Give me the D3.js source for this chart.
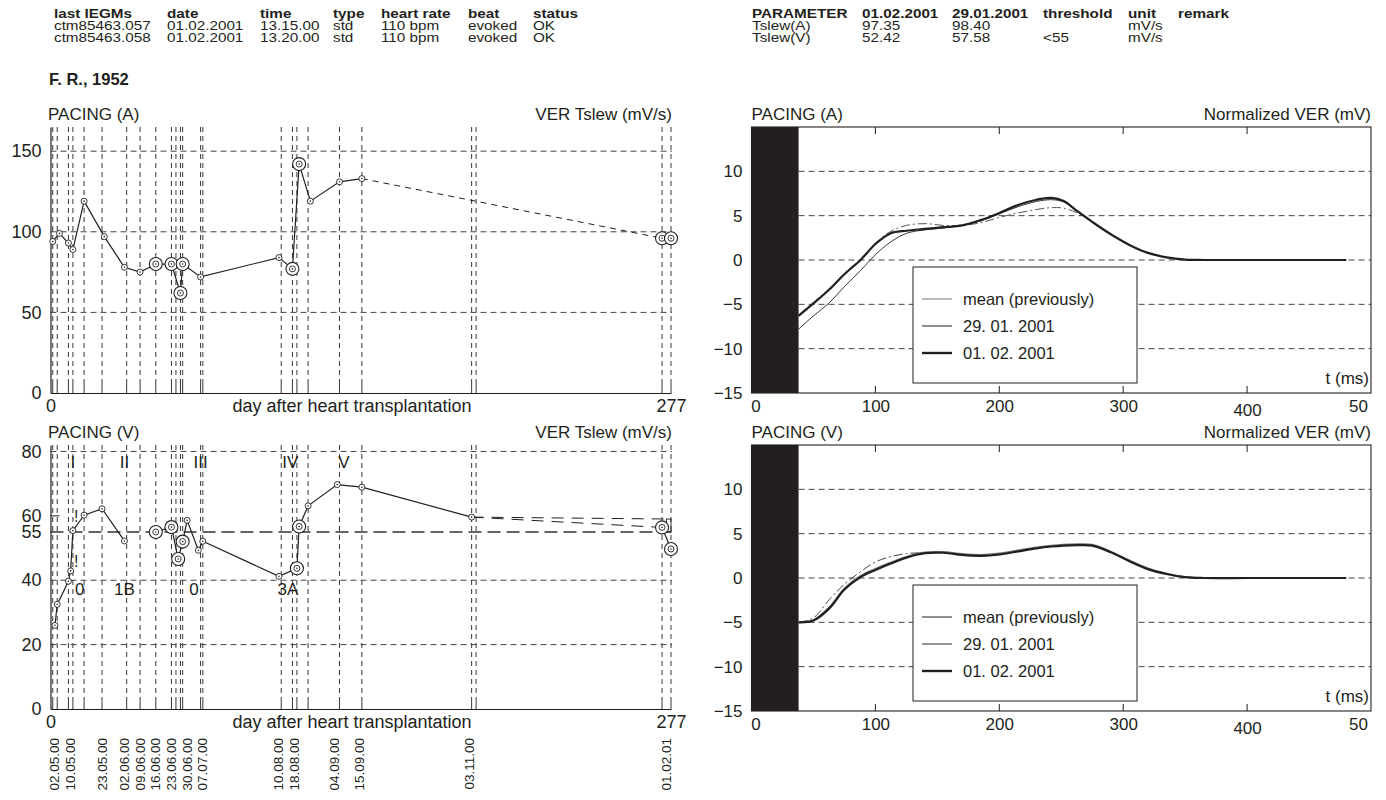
<!DOCTYPE html>
<html>
<head>
<meta charset="utf-8">
<script src="https://cdn.jsdelivr.net/npm/d3@7"></script>
<style>
  body { margin: 0; background: #fff; }
  svg text { font-family: "Liberation Sans", Arial, Helvetica, sans-serif; fill: #231f20; }
</style>
</head>
<body>
<svg id="chart" width="1386" height="800"></svg>
<script>
// ---- header tables
var headLeft = ['last IEGMs', 'date', 'time', 'type', 'heart rate', 'beat', 'status']
var rowsLeft = [
  ['ctm85463.057', '01.02.2001', '13.15.00', 'std', '110 bpm', 'evoked', 'OK'],
  ['ctm85463.058', '01.02.2001', '13.20.00', 'std', '110 bpm', 'evoked', 'OK']
]
var headRight = ['PARAMETER', '01.02.2001', '29.01.2001', 'threshold', 'unit', 'remark']
var rowsRight = [
  ['Tslew(A)', '97.35', '98.40', '', 'mV/s', ''],
  ['Tslew(V)', '52.42', '57.58', '<55', 'mV/s', '']
]
var patient = 'F. R., 1952'

// ---- trend charts (day after heart transplantation)
var lineDays = [1, 3, 8, 10, 15, 23, 34, 40, 47, 54, 56, 58, 59, 67, 68, 103, 108, 110, 115, 129, 139, 188, 190, 273, 277]
var dateLabels = ['02.05.00', '10.05.00', '23.05.00', '02.06.00', '09.06.00', '16.06.00', '23.06.00', '30.06.00', '07.07.00',
                  '10.08.00', '18.08.00', '04.09.00', '15.09.00', '03.11.00', '01.02.01']
var dateDays = [2, 9, 23, 33, 40, 47, 54, 61, 68, 102, 109, 127, 138, 187, 275]

// pacing (A)
var aDays  = [1, 4, 8, 10, 15, 24, 33, 40, 47, 54, 58, 59, 67, 102, 108, 111, 116, 129, 139, 273, 277]
var aVals  = [94, 99, 93, 89, 119, 97, 78, 75, 80, 80, 62, 80, 72, 84, 77, 142, 119, 131, 133, 96, 96]
var aGroup = [1, 1, 1, 1, 1, 1, 1, 1, 1, 1, 1, 1, 1, 1, 1, 1, 1, 1, 1, 2, 2]
var aBig   = [0, 0, 0, 0, 0, 0, 0, 0, 1, 1, 1, 1, 0, 0, 1, 1, 0, 0, 0, 1, 1]
var aBridge = [2]

// pacing (V)
var vDays  = [2, 3, 8, 9, 10, 15, 23, 33, 47, 54, 57, 59, 61, 66, 68, 102, 110, 111, 115, 128, 139, 188, 273, 277]
var vVals  = [26, 32.5, 39.7, 42.9, 55.4, 60.2, 62.2, 52.2, 55, 56.5, 46.6, 52, 58.6, 49.3, 52.1, 41.2, 43.7, 56.7, 63.1, 69.7, 68.9, 59.6, 56.4, 49.7]
var vGroup = [1, 1, 1, 1, 1, 1, 1, 1, 2, 2, 2, 2, 2, 2, 2, 2, 2, 2, 2, 2, 2, 2, 3, 3]
var vBig   = [0, 0, 0, 0, 0, 0, 0, 0, 1, 1, 1, 1, 0, 0, 0, 0, 1, 1, 0, 0, 0, 0, 1, 1]
var vBridge = [3]
var vExtraDay = 277, vExtraVal = 59
var vThreshold = 55

var vNotesTop = ['I', 'II', 'III', 'IV', 'V']
var vNotesTopDays = [10, 33, 67, 107, 131]
var vNotesLow = ['0', '1B', '0', '3A']
var vNotesLowDays = [13, 33, 64, 106]
var vBangDays = [11.5, 11.5]
var vBangVals = [60, 46]

// ---- VER curves (t in ms)
var verT     = [38, 50, 63, 75, 88, 100, 112, 125, 140, 155, 170, 185, 200, 215, 230, 242, 252, 263, 275, 290, 305, 320, 335, 350, 365, 400, 440, 480]
var verAmean = [-6.2, -4.8, -3.2, -1.5, 0.1, 1.9, 3.2, 3.9, 4.1, 3.9, 3.9, 4.2, 4.8, 5.3, 5.7, 5.9, 5.85, 5.3, 4.3, 2.9, 1.7, 0.8, 0.3, 0.05, 0, 0, 0, 0]
var verA2901 = [-7.8, -6.3, -4.8, -3.0, -1.2, 0.6, 2.0, 3.0, 3.4, 3.6, 3.9, 4.4, 5.2, 6.0, 6.6, 6.8, 6.55, 5.5, 4.3, 2.9, 1.7, 0.8, 0.3, 0.05, 0, 0, 0, 0]
var verA0102 = [-6.3, -4.9, -3.3, -1.6, 0, 1.8, 3.0, 3.3, 3.5, 3.7, 3.9, 4.5, 5.3, 6.2, 6.8, 7.0, 6.65, 5.5, 4.3, 2.9, 1.7, 0.8, 0.3, 0.05, 0, 0, 0, 0]
var verVmean = [-5, -4.5, -2.4, -0.7, 0.7, 1.8, 2.4, 2.75, 2.85, 2.85, 2.6, 2.5, 2.65, 3.0, 3.35, 3.55, 3.65, 3.7, 3.65, 2.9, 1.9, 1.0, 0.45, 0.1, 0, 0, 0, 0]
var verV2901 = [-5, -4.75, -3.25, -1.15, 0.25, 1.05, 1.75, 2.4, 2.9, 2.95, 2.72, 2.62, 2.78, 3.12, 3.47, 3.67, 3.77, 3.82, 3.77, 3.0, 2.0, 1.1, 0.5, 0.12, 0, 0, 0, 0]
var verV0102 = [-5, -4.8, -3.4, -1.3, 0.1, 0.9, 1.6, 2.3, 2.8, 2.85, 2.6, 2.5, 2.65, 3.0, 3.35, 3.55, 3.65, 3.7, 3.65, 2.9, 1.9, 1.0, 0.45, 0.1, 0, 0, 0, 0]
var pacePulse = 38
var legendNames = ['mean (previously)', '29. 01. 2001', '01. 02. 2001']

var ink = '#231f20'
var svg = d3.select('#chart')

// ---------- header
function stretch(sel, k) {
  sel.each(function() {
    var w = this.getComputedTextLength()
    if (w > 0) d3.select(this).attr('textLength', w * k).attr('lengthAdjust', 'spacingAndGlyphs')
  })
}

function drawTable(cols, head, rows) {
  var g = svg.append('g').attr('font-size', 13.5)
  head.forEach(function(h, i) {
    g.append('text').attr('x', cols[i]).attr('y', 18).attr('font-weight', 'bold').text(h)
  })
  rows.forEach(function(r, j) {
    r.forEach(function(c, i) {
      g.append('text').attr('x', cols[i]).attr('y', 30 + j * 12).text(c)
    })
  })
  stretch(g.selectAll('text'), 1.13)
}
drawTable([54, 167, 260, 333, 381, 468, 533], headLeft, rowsLeft)
drawTable([752, 862, 952, 1043, 1128, 1178], headRight, rowsRight)

svg.append('text').attr('x', 49).attr('y', 85).attr('font-size', 16.5).attr('font-weight', 'bold').text(patient)

// ---------- trend charts
var dayX = d3.scaleLinear().domain([0, 277]).range([50.5, 671])

function marker(g, x, y, big) {
  if (big) {
    g.append('circle').attr('cx', x).attr('cy', y).attr('r', 6.5)
      .attr('fill', '#fff').attr('stroke', ink).attr('stroke-width', 1.1)
  }
  g.append('circle').attr('cx', x).attr('cy', y).attr('r', 3)
    .attr('fill', '#fff').attr('stroke', ink).attr('stroke-width', 0.9)
  g.append('circle').attr('cx', x).attr('cy', y).attr('r', 0.8).attr('fill', ink)
}

function drawTrend(opt) {
  var g = svg.append('g')
  var y = d3.scaleLinear().domain([0, opt.yMax]).range([opt.bottom, opt.top])

  // measurement days
  lineDays.forEach(function(d) {
    g.append('line').attr('x1', dayX(d)).attr('x2', dayX(d))
      .attr('y1', opt.top).attr('y2', opt.bottom - 12)
      .attr('stroke', ink).attr('stroke-width', 0.9).attr('stroke-dasharray', '5,4')
    g.append('line').attr('x1', dayX(d)).attr('x2', dayX(d))
      .attr('y1', opt.bottom - 12).attr('y2', opt.bottom)
      .attr('stroke', ink).attr('stroke-width', 0.9)
  })

  // grid
  opt.grid.forEach(function(v) {
    g.append('line').attr('x1', dayX(0)).attr('x2', dayX(277) + 1)
      .attr('y1', y(v)).attr('y2', y(v))
      .attr('stroke', '#444').attr('stroke-width', 1).attr('stroke-dasharray', '6,4')
  })
  if (opt.threshold) {
    g.append('line').attr('x1', dayX(0)).attr('x2', dayX(277) + 1)
      .attr('y1', y(opt.threshold)).attr('y2', y(opt.threshold))
      .attr('stroke', '#333').attr('stroke-width', 1.6).attr('stroke-dasharray', '13,6')
  }
  if (opt.tickOnly) {
    g.append('line').attr('x1', dayX(0)).attr('x2', dayX(0) + 9)
      .attr('y1', y(opt.tickOnly)).attr('y2', y(opt.tickOnly))
      .attr('stroke', ink).attr('stroke-width', 1)
  }

  // axes
  var ya = g.append('g').attr('transform', 'translate(' + dayX(0) + ',0)')
    .call(d3.axisLeft(y).tickValues(opt.ticks).tickSize(0).tickSizeOuter(0).tickPadding(9))
  ya.attr('font-size', 18)
  ya.select('.domain').attr('stroke', ink).attr('stroke-width', 1.2)

  var xa = g.append('g').attr('transform', 'translate(0,' + opt.bottom + ')')
    .call(d3.axisBottom(dayX).tickValues([0, 277]).tickSize(0).tickSizeOuter(0).tickPadding(6))
  xa.attr('font-size', 18)
  xa.select('.domain').attr('stroke', ink).attr('stroke-width', 1.2)

  g.append('text').attr('x', 352).attr('y', opt.bottom + 18.5).attr('text-anchor', 'middle')
    .attr('font-size', 18).text('day after heart transplantation')

  g.append('text').attr('x', 48).attr('y', opt.top - 7).attr('font-size', 17).text(opt.title)
  g.append('text').attr('x', 672).attr('y', opt.top - 7).attr('font-size', 17)
    .attr('text-anchor', 'end').text('VER Tslew (mV/s)')

  // data lines
  var pts = opt.days.map(function(d, i) {
    return { x: dayX(d), y: y(opt.vals[i]), grp: opt.group[i], big: opt.big[i] }
  })
  var line = d3.line().x(function(p) { return p.x }).y(function(p) { return p.y })
  var groups = d3.groups(pts, function(p) { return p.grp })
  groups.forEach(function(gr, k) {
    g.append('path').attr('d', line(gr[1])).attr('fill', 'none')
      .attr('stroke', ink).attr('stroke-width', 1.2)
    if (k > 0 && opt.bridge.indexOf(gr[0]) >= 0) {
      var prev = groups[k - 1][1]
      g.append('path').attr('d', line([prev[prev.length - 1], gr[1][0]]))
        .attr('fill', 'none').attr('stroke', ink).attr('stroke-width', 1)
        .attr('stroke-dasharray', opt.bridgeDash)
    }
  })
  return { g: g, y: y, pts: pts }
}

var trendA = drawTrend({
  top: 127, bottom: 393, yMax: 165, ticks: [0, 50, 100, 150], grid: [50, 100, 150],
  title: 'PACING (A)', days: aDays, vals: aVals, group: aGroup, big: aBig,
  bridge: aBridge, bridgeDash: '6,5'
})
var trendV = drawTrend({
  top: 445, bottom: 709, yMax: 82, ticks: [0, 20, 40, 55, 60, 80], grid: [20, 40, 80],
  threshold: vThreshold, tickOnly: 60,
  title: 'PACING (V)', days: vDays, vals: vVals, group: vGroup, big: vBig,
  bridge: vBridge, bridgeDash: '12,8'
})

// extra dashed projection + box for (V)
var lastSolid = trendV.pts[vGroup.indexOf(3) - 1]
trendV.g.append('line').attr('x1', lastSolid.x).attr('y1', lastSolid.y)
  .attr('x2', dayX(vExtraDay)).attr('y2', trendV.y(vExtraVal))
  .attr('stroke', ink).attr('stroke-width', 1).attr('stroke-dasharray', '12,8')
trendV.g.append('rect').attr('x', dayX(275)).attr('y', trendV.y(vExtraVal))
  .attr('width', dayX(277) - dayX(275)).attr('height', trendV.y(vThreshold) - trendV.y(vExtraVal))
  .attr('fill', 'none').attr('stroke', ink).attr('stroke-width', 0.9)

trendA.pts.forEach(function(p) { marker(trendA.g, p.x, p.y, p.big) })
trendV.pts.forEach(function(p) { marker(trendV.g, p.x, p.y, p.big) })

// annotations (V)
vNotesTop.forEach(function(t, i) {
  trendV.g.append('text').attr('x', dayX(vNotesTopDays[i])).attr('y', 468)
    .attr('text-anchor', 'middle').attr('font-size', 17).text(t)
})
vNotesLow.forEach(function(t, i) {
  trendV.g.append('text').attr('x', dayX(vNotesLowDays[i])).attr('y', 595)
    .attr('text-anchor', 'middle').attr('font-size', 17).text(t)
})
vBangDays.forEach(function(d, i) {
  trendV.g.append('text').attr('x', dayX(d)).attr('y', trendV.y(vBangVals[i]) + 6)
    .attr('text-anchor', 'middle').attr('font-size', 16).text('!')
})

// date labels
dateLabels.forEach(function(t, i) {
  svg.append('text')
    .attr('transform', 'translate(' + (dayX(dateDays[i]) + 4.5) + ',738) rotate(-90)')
    .attr('text-anchor', 'end').attr('font-size', 13.5).text(t)
})

// ---------- VER charts
var tX = d3.scaleLinear().domain([0, 500]).range([751.5, 1371])

function drawVer(opt) {
  var g = svg.append('g')
  var y = d3.scaleLinear().domain([-15, 15]).range([opt.bottom, opt.top])

  ;[-10, -5, 0, 5, 10].forEach(function(v) {
    g.append('line').attr('x1', tX(pacePulse)).attr('x2', tX(500))
      .attr('y1', y(v)).attr('y2', y(v))
      .attr('stroke', '#444').attr('stroke-width', 1).attr('stroke-dasharray', '6,4')
  })
  ;[100, 200, 300, 400].forEach(function(t) {
    g.append('line').attr('x1', tX(t)).attr('x2', tX(t)).attr('y1', opt.top).attr('y2', opt.top + 7)
      .attr('stroke', ink)
    g.append('line').attr('x1', tX(t)).attr('x2', tX(t)).attr('y1', opt.bottom).attr('y2', opt.bottom - 7)
      .attr('stroke', ink)
  })

  g.append('rect').attr('x', tX(0)).attr('y', opt.top)
    .attr('width', tX(pacePulse) - tX(0)).attr('height', opt.bottom - opt.top).attr('fill', ink)

  var line = d3.line().curve(d3.curveCatmullRom.alpha(0.5))
    .x(function(d, i) { return tX(verT[i]) }).y(function(d) { return y(d) })
  opt.series.forEach(function(s) {
    g.append('path').attr('d', line(s.vals)).attr('fill', 'none')
      .attr('stroke', s.color).attr('stroke-width', s.width)
      .attr('stroke-dasharray', s.dash || null)
  })

  g.append('rect').attr('x', tX(0)).attr('y', opt.top)
    .attr('width', tX(500) - tX(0)).attr('height', opt.bottom - opt.top)
    .attr('fill', 'none').attr('stroke', ink).attr('stroke-width', 1.1)

  var ya = g.append('g').attr('transform', 'translate(' + tX(0) + ',0)')
    .call(d3.axisLeft(y).tickValues([-15, -10, -5, 0, 5, 10]).tickSize(0).tickPadding(9)
      .tickFormat(function(d) { return d < 0 ? '\u2212' + Math.abs(d) : d }))
  ya.attr('font-size', 17)
  ya.select('.domain').remove()

  var xa = g.append('g').attr('transform', 'translate(0,' + opt.bottom + ')')
    .call(d3.axisBottom(tX).tickValues([0, 100, 200, 300, 400, 500]).tickSize(0).tickPadding(7)
      .tickFormat(function(d) { return d == 500 ? '50' : d }))
  xa.attr('font-size', 17)
  xa.select('.domain').remove()
  xa.selectAll('.tick').filter(function(d) { return d == 0 }).select('text').attr('dx', 4)
  xa.selectAll('.tick').filter(function(d) { return d == 400 }).select('text').attr('dy', '0.95em')
  xa.selectAll('.tick').filter(function(d) { return d == 500 }).select('text').attr('dx', -13)

  g.append('text').attr('x', tX(0)).attr('y', opt.top - 7).attr('font-size', 17).text(opt.title)
  g.append('text').attr('x', tX(500)).attr('y', opt.top - 7).attr('font-size', 17)
    .attr('text-anchor', 'end').text('Normalized VER (mV)')
  g.append('text').attr('x', tX(500) - 2).attr('y', opt.bottom - 9).attr('font-size', 17)
    .attr('text-anchor', 'end').text('t (ms)')

  // legend
  var lg = g.append('g').attr('transform', 'translate(913,' + (opt.top + 140) + ')')
  lg.append('rect').attr('width', 224).attr('height', 116)
    .attr('fill', '#fff').attr('stroke', ink).attr('stroke-width', 1)
  opt.legend.forEach(function(s, i) {
    var yy = 32 + i * 27
    lg.append('line').attr('x1', 9).attr('x2', 39).attr('y1', yy).attr('y2', yy)
      .attr('stroke', s.color).attr('stroke-width', s.width)
    lg.append('text').attr('x', 50).attr('y', yy + 6).attr('font-size', 16.5).text(legendNames[i])
  })
}

drawVer({
  top: 127, bottom: 393, title: 'PACING (A)',
  series: [
    { vals: verAmean, color: '#555', width: 1, dash: '9,3,2,3' },
    { vals: verA2901, color: ink, width: 0.9 },
    { vals: verA0102, color: ink, width: 2.2 }
  ],
  legend: [
    { color: '#777', width: 1 }, { color: ink, width: 1 }, { color: ink, width: 2.4 }
  ]
})
drawVer({
  top: 445, bottom: 711, title: 'PACING (V)',
  series: [
    { vals: verVmean, color: '#444', width: 1, dash: '9,3,2,3' },
    { vals: verV2901, color: '#777', width: 1.6 },
    { vals: verV0102, color: ink, width: 2.2 }
  ],
  legend: [
    { color: ink, width: 1 }, { color: '#888', width: 1.8 }, { color: ink, width: 2.4 }
  ]
})
</script>
</body>
</html>
